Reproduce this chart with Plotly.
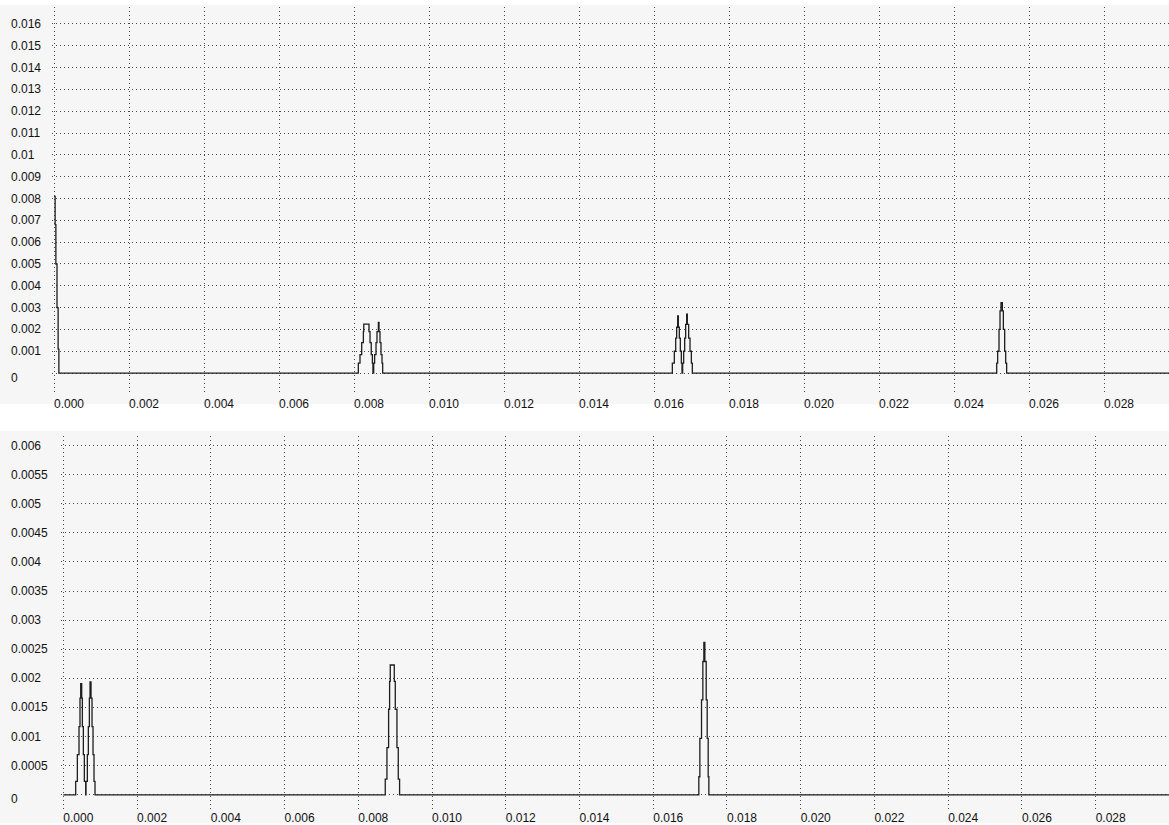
import plotly.graph_objects as go

# ---------------- data ----------------
top_x = [0, 0.00003, 0.00005, 0.00008, 0.00011, 0.00013,
         0.008115, 0.00816, 0.008205, 0.00825, 0.00826, 0.0084, 0.008427, 0.00846, 0.00849, 0.008505,
         0.008525, 0.00855, 0.008587, 0.008613, 0.00865, 0.008667, 0.008693, 0.00872, 0.008747, 0.008765,
         0.016489, 0.016542, 0.016578, 0.016604, 0.016631, 0.016649, 0.016675, 0.016702, 0.016729, 0.016747,
         0.016764, 0.016791, 0.016818, 0.016844, 0.016871, 0.016889, 0.016924, 0.01696, 0.016996, 0.017022,
         0.025138, 0.025164, 0.0252, 0.025227, 0.025253, 0.025289, 0.025316, 0.025351, 0.025378, 0.025404,
         0.0300]
top_y = [0.0081, 0.0068, 0.005, 0.003, 0.0011, 0,
         0.00046, 0.00085, 0.0014, 0.0019, 0.00224, 0.0019, 0.0014, 0.00085, 0.00046, 0,
         0.00046, 0.00085, 0.0014, 0.0019, 0.00232, 0.0019, 0.0014, 0.00085, 0.00046, 0,
         0.00046, 0.001, 0.0016, 0.0021, 0.00262, 0.0021, 0.0016, 0.001, 0.00046, 0,
         0.00046, 0.001, 0.0016, 0.00223, 0.0027, 0.00223, 0.0016, 0.001, 0.00046, 0,
         0.00046, 0.001, 0.002, 0.00285, 0.00323, 0.00285, 0.002, 0.001, 0.00046, 0,
         0]

bot_x = [0,
         0.000336, 0.000381, 0.000426, 0.000453, 0.000472, 0.000499, 0.000517, 0.000544, 0.000571, 0.000607,
         0.000616, 0.000652, 0.000679, 0.000707, 0.000725, 0.000752, 0.000779, 0.000806, 0.000833, 0.00086,
         0.008732, 0.008778, 0.008823, 0.00885, 0.008868, 0.008977, 0.009004, 0.009049, 0.009085, 0.009121,
         0.017237, 0.017265, 0.01731, 0.017346, 0.017373, 0.0174, 0.017437, 0.017464, 0.017491, 0.017509,
         0.0300]
bot_y = [0,
         0.00023, 0.00069, 0.00117, 0.00166, 0.00191, 0.00166, 0.00117, 0.00069, 0.00023, 0,
         0.00023, 0.00069, 0.00117, 0.00166, 0.00194, 0.00166, 0.00117, 0.00069, 0.00023, 0,
         0.00027, 0.00081, 0.00147, 0.00195, 0.00223, 0.00195, 0.00147, 0.00081, 0.00027, 0,
         0.00031, 0.00097, 0.00163, 0.00229, 0.00262, 0.00229, 0.00163, 0.00097, 0.00031, 0,
         0]

top_ytick_vals = [0, 0.001, 0.002, 0.003, 0.004, 0.005, 0.006, 0.007, 0.008,
                  0.009, 0.01, 0.011, 0.012, 0.013, 0.014, 0.015, 0.016]
top_ytick_text = ["0", "0.001", "0.002", "0.003", "0.004", "0.005", "0.006", "0.007", "0.008",
                  "0.009", "0.01", "0.011", "0.012", "0.013", "0.014", "0.015", "0.016"]
bot_ytick_vals = [0, 0.0005, 0.001, 0.0015, 0.002, 0.0025, 0.003, 0.0035, 0.004,
                  0.0045, 0.005, 0.0055, 0.006]
bot_ytick_text = ["0", "0.0005", "0.001", "0.0015", "0.002", "0.0025", "0.003", "0.0035", "0.004",
                  "0.0045", "0.005", "0.0055", "0.006"]
xtick_vals = [0, 0.002, 0.004, 0.006, 0.008, 0.010, 0.012, 0.014, 0.016,
              0.018, 0.020, 0.022, 0.024, 0.026, 0.028]

# ---------------- figure ----------------
W, H = 1169, 825
FONT = "Liberation Sans, Arial, sans-serif"
LINE = "#1e1e1e"
GRID = "#4a4a4a"
PANEL = "#f6f6f6"

fig = go.Figure()
fig.add_trace(go.Scatter(x=top_x, y=top_y, mode="lines", line=dict(color=LINE, width=1.3, shape="hv"),
                         xaxis="x", yaxis="y", showlegend=False, hoverinfo="skip"))
fig.add_trace(go.Scatter(x=bot_x, y=bot_y, mode="lines", line=dict(color=LINE, width=1.3, shape="hv"),
                         xaxis="x2", yaxis="y2", showlegend=False, hoverinfo="skip"))

def px_y(p):
    return 1 - p / H

axis_common = dict(showline=False, zeroline=False, ticks="", showgrid=True,
                   gridcolor=GRID, gridwidth=1, griddash="1px,3px")

fig.update_layout(
    width=W, height=H,
    margin=dict(l=0, r=0, t=0, b=0),
    paper_bgcolor="white", plot_bgcolor="rgba(0,0,0,0)",
    font=dict(family=FONT, size=12, color="#111"),
    xaxis=dict(domain=[52 / W, 1], range=[-0.0000533, 0.029733], anchor="y",
               tickvals=xtick_vals, tickformat=".3f", ticklabelposition="outside right",
               **axis_common),
    yaxis=dict(domain=[px_y(396), px_y(7)], range=[-0.0010057, 0.016777], anchor="x",
               tickvals=top_ytick_vals, showticklabels=False, **axis_common),
    xaxis2=dict(domain=[61 / W, 1], range=[-0.0000624, 0.029989], anchor="y2",
                tickvals=xtick_vals, tickformat=".3f", ticklabelposition="outside right",
                **axis_common),
    yaxis2=dict(domain=[px_y(811), px_y(437)], range=[-0.000245, 0.006166], anchor="x2",
                tickvals=bot_ytick_vals, showticklabels=False, **axis_common),
)

# panel backgrounds
fig.add_shape(type="rect", xref="paper", yref="paper", x0=0, x1=1, y0=px_y(405), y1=px_y(5),
              fillcolor=PANEL, line=dict(width=0), layer="below")
fig.add_shape(type="rect", xref="paper", yref="paper", x0=0, x1=1, y0=0, y1=px_y(432),
              fillcolor=PANEL, line=dict(width=0), layer="below")

# left-aligned y tick labels
for v, t in zip(top_ytick_vals, top_ytick_text):
    fig.add_annotation(xref="paper", yref="y", x=0, y=v, text=t, showarrow=False,
                       xanchor="left", yanchor="middle", xshift=9, yshift=(-5 if v == 0 else 0),
                       font=dict(family=FONT, size=12, color="#111"))
for v, t in zip(bot_ytick_vals, bot_ytick_text):
    fig.add_annotation(xref="paper", yref="y2", x=0, y=v, text=t, showarrow=False,
                       xanchor="left", yanchor="middle", xshift=9, yshift=(-4 if v == 0 else 0),
                       font=dict(family=FONT, size=12, color="#111"))

fig.write_html("out.html",
               config={"displayModeBar": False, "staticPlot": True},
               post_script="document.body.style.margin='0';document.body.style.overflow='hidden';")
